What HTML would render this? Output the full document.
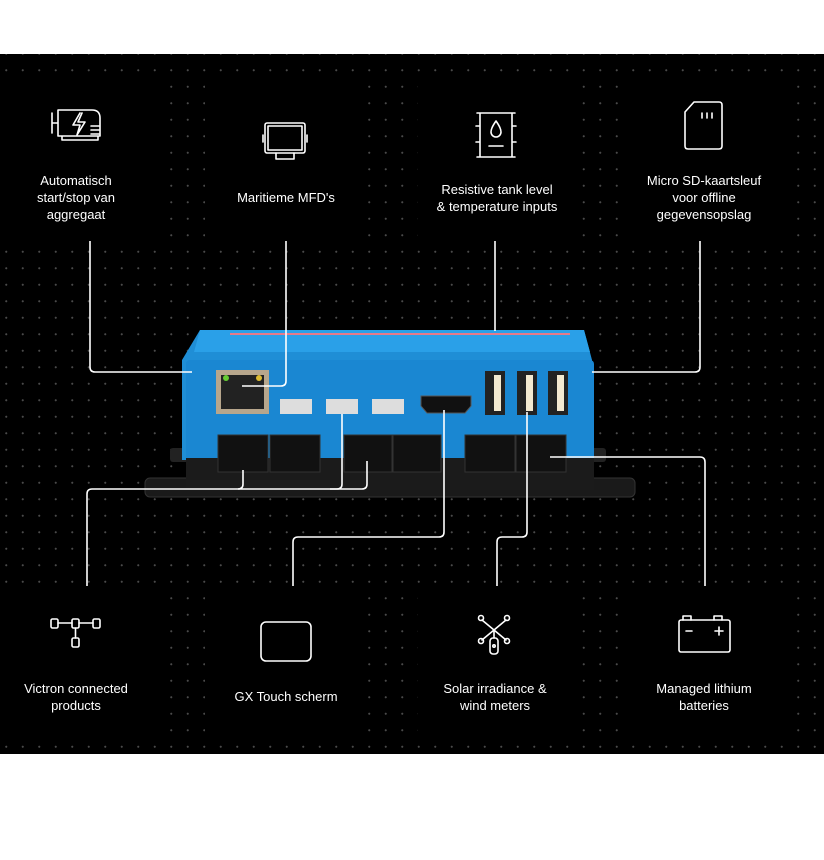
<!DOCTYPE html>
<html><head><meta charset="utf-8"><style>
html,body{margin:0;padding:0;background:#fff;}
body{width:824px;height:860px;position:relative;overflow:hidden;font-family:"Liberation Sans",sans-serif;}
#panel{position:absolute;left:0;top:54px;width:824px;height:700px;background-color:#000;
background-image:radial-gradient(circle,#4a4a4a 0.9px,transparent 1.2px);background-size:16.5px 16.5px;background-position:-2px 8px;}
.card{position:absolute;background:#000;}
.lbl{position:absolute;color:#fff;font-size:13px;line-height:17px;text-align:center;width:200px;}
svg{position:absolute;left:0;top:0;}
</style></head><body>
<div id="panel"></div>
<div class="card" style="left:0;top:76px;width:165px;height:162px"></div>
<div class="card" style="left:205px;top:76px;width:158px;height:162px"></div>
<div class="card" style="left:418px;top:76px;width:157px;height:162px"></div>
<div class="card" style="left:618px;top:76px;width:170px;height:162px"></div>
<div class="card" style="left:0;top:594px;width:165px;height:142px"></div>
<div class="card" style="left:205px;top:594px;width:158px;height:142px"></div>
<div class="card" style="left:418px;top:594px;width:157px;height:142px"></div>
<div class="card" style="left:618px;top:594px;width:170px;height:142px"></div>

<div class="lbl" style="left:-24px;top:172px">Automatisch<br>start/stop van<br>aggregaat</div>
<div class="lbl" style="left:186px;top:189px">Maritieme MFD's</div>
<div class="lbl" style="left:397px;top:181px">Resistive tank level<br>&amp; temperature inputs</div>
<div class="lbl" style="left:604px;top:172px">Micro SD-kaartsleuf<br>voor offline<br>gegevensopslag</div>
<div class="lbl" style="left:-24px;top:680px">Victron connected<br>products</div>
<div class="lbl" style="left:186px;top:688px">GX Touch scherm</div>
<div class="lbl" style="left:395px;top:680px">Solar irradiance &amp;<br>wind meters</div>
<div class="lbl" style="left:604px;top:680px">Managed lithium<br>batteries</div>

<svg width="824" height="860" viewBox="0 0 824 860">
<g fill="none" stroke="#fff" stroke-width="1.6" stroke-linejoin="round" stroke-linecap="round">
 <!-- generator -->
 <path d="M52 113v20M53 123h5M58 110h34q8 0 8 8v18h-42zM62 136v4h36v-4"/>
 <path d="M80 113l-7 12h7l-3 10 8-13h-7l4-9" />
 <path d="M91 126h8M91 130h8M91 134h8"/>
 <!-- monitor -->
 <rect x="265" y="123" width="40" height="30" rx="2"/><rect x="268" y="126" width="34" height="24"/>
 <path d="M263 135v7M307 135v7M276 153v6h18v-6"/>
 <!-- tank -->
 <path d="M477 113h38M477 157h38M480 113v44M512 113v44M476 126h4M476 142h4M512 126h4M512 142h4M489 146h14"/>
 <path d="M496 121q-5 7-5 11a5 5 0 0 0 10 0q0-4-5-11z"/>
 <!-- sd -->
 <path d="M694 102h25q3 0 3 3v41q0 3-3 3h-31q-3 0-3-3v-34z"/>
 <path d="M702 113v5M707 113v5M712 113v5"/>
 <!-- network -->
 <rect x="51" y="619" width="7" height="9" rx="1.5"/><rect x="72" y="619" width="7" height="9" rx="1.5"/><rect x="93" y="619" width="7" height="9" rx="1.5"/><rect x="72" y="638" width="7" height="9" rx="1.5"/>
 <path d="M58 623h14M79 623h14M75.5 628v10"/>
 <!-- screen -->
 <rect x="261" y="622" width="50" height="39" rx="5"/>
 <!-- wind -->
 <path d="M482 620l12 10 12-10M482 640l12-10 12 10M494 630v8"/>
 <circle cx="481" cy="618" r="2.5"/><circle cx="507" cy="618" r="2.5"/><circle cx="481" cy="641" r="2.5"/><circle cx="507" cy="641" r="2.5"/>
 <rect x="490" y="638" width="8" height="16" rx="3"/><circle cx="494" cy="646" r="1.2"/>
 <!-- battery -->
 <rect x="679" y="620" width="51" height="32" rx="2"/><path d="M683 620v-4h8v4M714 620v-4h8v4M686 631h6M715 631h8M719 627v8"/>
</g>

<!-- device -->
<g>
 <rect x="145" y="478" width="490" height="19" rx="5" fill="#1a1a1a" stroke="#333"/>
 <rect x="170" y="448" width="24" height="14" rx="3" fill="#222"/>
 <rect x="582" y="448" width="24" height="14" rx="3" fill="#222"/>
 <path d="M200 330h384l8 30v100h-410v-100z" fill="#1f8ed6"/>
 <path d="M200 330h384l6 22h-396z" fill="#2aa0e8"/>
 <rect x="186" y="360" width="408" height="105" rx="4" fill="#1a87d2"/>
 <rect x="186" y="458" width="408" height="32" fill="#1b1b1b"/>
 <path d="M230 334h340" stroke="#e77a8a" stroke-width="2"/>
 <rect x="216" y="370" width="53" height="44" fill="#b7a68c"/><rect x="221" y="375" width="43" height="34" fill="#222"/>
 <circle cx="226" cy="378" r="3" fill="#6c3"/><circle cx="259" cy="378" r="3" fill="#db3"/>
 <rect x="280" y="399" width="32" height="15" fill="#ddd"/><rect x="326" y="399" width="32" height="15" fill="#ddd"/><rect x="372" y="399" width="32" height="15" fill="#ddd"/>
 <path d="M421 396h50v10l-6 7h-38l-6-7z" fill="#111" stroke="#555"/>
 <rect x="485" y="371" width="20" height="44" fill="#222"/><rect x="494" y="375" width="7" height="36" fill="#f3e9d0"/>
 <rect x="517" y="371" width="20" height="44" fill="#222"/><rect x="526" y="375" width="7" height="36" fill="#f3e9d0"/>
 <rect x="548" y="371" width="20" height="44" fill="#222"/><rect x="557" y="375" width="7" height="36" fill="#f3e9d0"/>
 <g fill="#111" stroke="#333">
  <rect x="218" y="435" width="50" height="37"/><rect x="270" y="435" width="50" height="37"/>
  <rect x="344" y="435" width="48" height="37"/><rect x="393" y="435" width="48" height="37"/>
  <rect x="465" y="435" width="50" height="37"/><rect x="516" y="435" width="50" height="37"/>
 </g>
</g>

<g fill="none" stroke="#fff" stroke-width="1.6" stroke-linejoin="round">
 <path d="M90 241v126q0 5 5 5h97"/>
 <path d="M286 241v140q0 5-5 5h-39"/>
 <path d="M495 241v90"/>
 <path d="M700 241v126q0 5-5 5h-103"/>
 <path d="M87 586v-92q0-5 5-5h146q5 0 5-5v-14"/>
 <path d="M238 489h99q5 0 5-5v-70"/>
 <path d="M330 489h32q5 0 5-5v-23"/>
 <path d="M293 586v-44q0-5 5-5h141q5 0 5-5v-122"/>
 <path d="M497 586v-44q0-5 5-5h20q5 0 5-5v-120"/>
 <path d="M705 586v-124q0-5-5-5h-150"/>
</g>
</svg>
</body></html>
